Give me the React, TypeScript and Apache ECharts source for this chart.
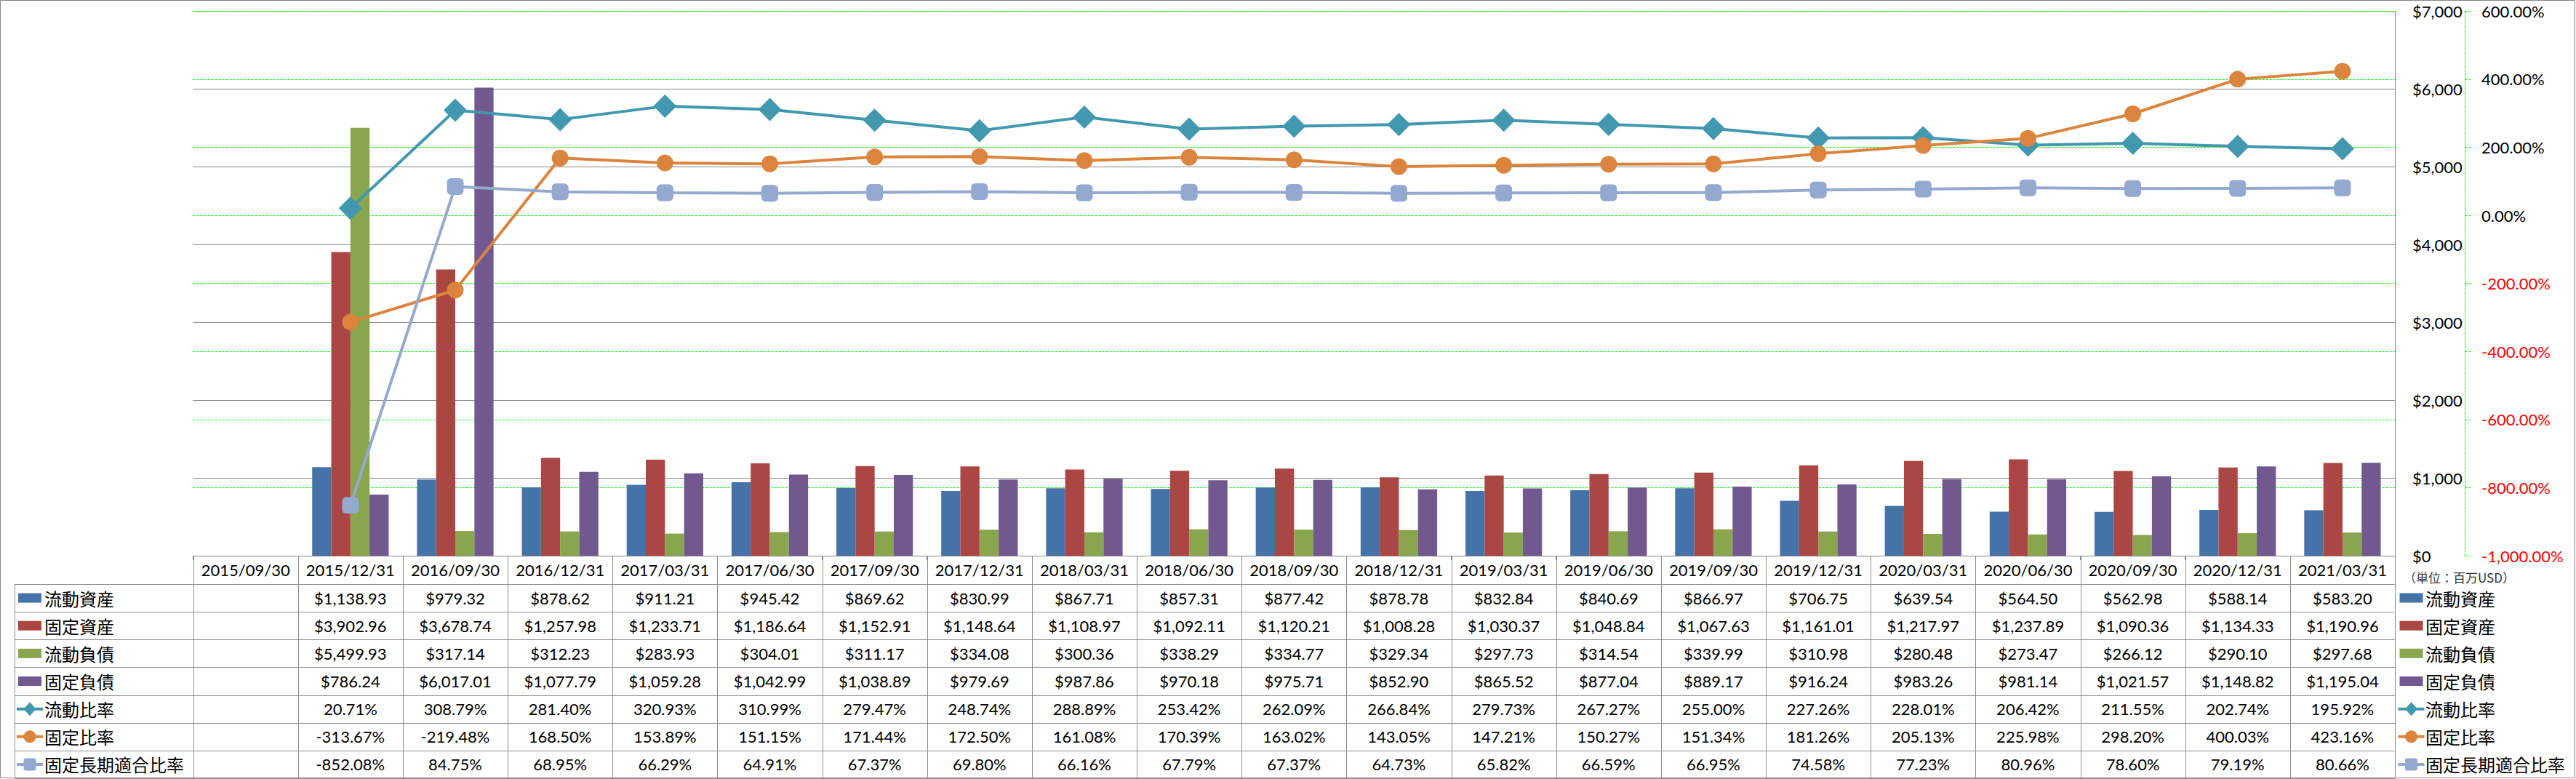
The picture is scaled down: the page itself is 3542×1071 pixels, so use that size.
import React, { useEffect, useRef } from "react";
import * as echarts from "echarts";

const categories = [
  "2015/09/30", "2015/12/31", "2016/09/30", "2016/12/31", "2017/03/31", "2017/06/30", "2017/09/30",
  "2017/12/31", "2018/03/31", "2018/06/30", "2018/09/30", "2018/12/31", "2019/03/31", "2019/06/30",
  "2019/09/30", "2019/12/31", "2020/03/31", "2020/06/30", "2020/09/30", "2020/12/31", "2021/03/31",
];

const currentAssets = [null, 1138.93, 979.32, 878.62, 911.21, 945.42, 869.62, 830.99, 867.71, 857.31, 877.42, 878.78, 832.84, 840.69, 866.97, 706.75, 639.54, 564.5, 562.98, 588.14, 583.2];
const fixedAssets = [null, 3902.96, 3678.74, 1257.98, 1233.71, 1186.64, 1152.91, 1148.64, 1108.97, 1092.11, 1120.21, 1008.28, 1030.37, 1048.84, 1067.63, 1161.01, 1217.97, 1237.89, 1090.36, 1134.33, 1190.96];
const currentLiabilities = [null, 5499.93, 317.14, 312.23, 283.93, 304.01, 311.17, 334.08, 300.36, 338.29, 334.77, 329.34, 297.73, 314.54, 339.99, 310.98, 280.48, 273.47, 266.12, 290.1, 297.68];
const fixedLiabilities = [null, 786.24, 6017.01, 1077.79, 1059.28, 1042.99, 1038.89, 979.69, 987.86, 970.18, 975.71, 852.9, 865.52, 877.04, 889.17, 916.24, 983.26, 981.14, 1021.57, 1148.82, 1195.04];
const currentRatio = [null, 20.71, 308.79, 281.4, 320.93, 310.99, 279.47, 248.74, 288.89, 253.42, 262.09, 266.84, 279.73, 267.27, 255.0, 227.26, 228.01, 206.42, 211.55, 202.74, 195.92];
const fixedRatio = [null, -313.67, -219.48, 168.5, 153.89, 151.15, 171.44, 172.5, 161.08, 170.39, 163.02, 143.05, 147.21, 150.27, 151.34, 181.26, 205.13, 225.98, 298.2, 400.03, 423.16];
const fixedLongTermRatio = [null, -852.08, 84.75, 68.95, 66.29, 64.91, 67.37, 69.8, 66.16, 67.79, 67.37, 64.73, 65.82, 66.59, 66.95, 74.58, 77.23, 80.96, 78.6, 79.19, 80.66];

const seriesNames = ["流動資産", "固定資産", "流動負債", "固定負債", "流動比率", "固定比率", "固定長期適合比率"];
const dollarAxisRange = [0, 7000, 1000];
const ratioAxisRange = [-1000, 600, 200];
const unitLabel = "（単位：百万USD）";

const COLORS = ["#4572A7", "#AA4643", "#89A54E", "#71588F", "#4198AF", "#DB843D", "#93A9CF"];
const LATIN = "Lato, 'Noto Sans CJK JP', sans-serif";
const CJK = "'Noto Sans CJK JP', sans-serif";
const GRID_GRAY = "#868686";
const TABLE_GRAY = "#8c8c8c";

const W = 3542;
const H = 1071;
const PLOT_LEFT = 265.6;
const PLOT_RIGHT = 3293;
const PLOT_TOP = 15.3;
const PLOT_BOTTOM = 764;
const HEADER_BOTTOM = 803;
const TABLE_BOTTOM = 1070;

const fmtMoney = (v: number | null) =>
  v == null ? "" : "$" + v.toLocaleString("en-US", { minimumFractionDigits: 2, maximumFractionDigits: 2 });
const fmtPct = (v: number | null) =>
  v == null ? "" : v.toLocaleString("en-US", { minimumFractionDigits: 2, maximumFractionDigits: 2 }) + "%";

const rows = [
  { name: seriesNames[0], kind: "bar", color: COLORS[0], values: currentAssets, fmt: fmtMoney, symbol: "" },
  { name: seriesNames[1], kind: "bar", color: COLORS[1], values: fixedAssets, fmt: fmtMoney, symbol: "" },
  { name: seriesNames[2], kind: "bar", color: COLORS[2], values: currentLiabilities, fmt: fmtMoney, symbol: "" },
  { name: seriesNames[3], kind: "bar", color: COLORS[3], values: fixedLiabilities, fmt: fmtMoney, symbol: "" },
  { name: seriesNames[4], kind: "line", color: COLORS[4], values: currentRatio, fmt: fmtPct, symbol: "diamond" },
  { name: seriesNames[5], kind: "line", color: COLORS[5], values: fixedRatio, fmt: fmtPct, symbol: "circle" },
  { name: seriesNames[6], kind: "line", color: COLORS[6], values: fixedLongTermRatio, fmt: fmtPct, symbol: "square" },
];

const crisp = (v: number) => Math.round(v) + 0.5;

function gLine(x1: number, y1: number, x2: number, y2: number, color = TABLE_GRAY) {
  return {
    type: "line",
    silent: true,
    shape: { x1, y1, x2, y2 },
    style: { stroke: color, lineWidth: 1 },
  };
}

function gText(text: string, x: number, y: number, align: string, fontSize: number, family: string, fill = "#000") {
  return {
    type: "text",
    silent: true,
    x,
    y,
    style: {
      text,
      fill,
      fontSize,
      fontFamily: family,
      align,
      textAlign: align,
      verticalAlign: "middle",
      textVerticalAlign: "middle",
    },
  };
}

function legendKey(row: any, cx: number, cy: number) {
  const els: any[] = [];
  if (row.kind === "bar") {
    els.push({
      type: "rect",
      silent: true,
      shape: { x: cx - 16, y: cy - 6.5, width: 32, height: 13 },
      style: { fill: row.color },
    });
  } else {
    els.push({
      type: "line",
      silent: true,
      shape: { x1: cx - 18, y1: cy, x2: cx + 18, y2: cy },
      style: { stroke: row.color, lineWidth: 4 },
    });
    if (row.symbol === "diamond") {
      els.push({
        type: "polygon",
        silent: true,
        shape: { points: [[cx, cy - 9.5], [cx + 8.5, cy], [cx, cy + 9.5], [cx - 8.5, cy]] },
        style: { fill: row.color },
      });
    } else if (row.symbol === "circle") {
      els.push({ type: "circle", silent: true, shape: { cx, cy, r: 8.5 }, style: { fill: row.color } });
    } else {
      els.push({
        type: "rect",
        silent: true,
        shape: { x: cx - 8.5, y: cy - 8.5, width: 17, height: 17, r: 3 },
        style: { fill: row.color },
      });
    }
  }
  return els;
}

function buildTable(chart: any) {
  const xs = categories.map((c) => chart.convertToPixel({ xAxisIndex: 0 }, c) as number);
  const colW = xs[1] - xs[0];
  const left = xs[0] - colW / 2;
  const right = xs[xs.length - 1] + colW / 2;
  const rowH = (TABLE_BOTTOM - HEADER_BOTTOM) / rows.length;
  const els: any[] = [];

  // outer border
  els.push({
    type: "rect",
    silent: true,
    shape: { x: 0.5, y: 0.5, width: W - 2, height: H - 2 },
    style: { fill: "none", stroke: GRID_GRAY, lineWidth: 1 },
  });

  // horizontal lines
  els.push(gLine(left, crisp(PLOT_BOTTOM), right, crisp(PLOT_BOTTOM)));
  for (let i = 0; i <= rows.length; i++) {
    const y = crisp(HEADER_BOTTOM + i * rowH);
    els.push(gLine(20.5, y, right, y));
  }
  // vertical lines
  els.push(gLine(20.5, HEADER_BOTTOM, 20.5, TABLE_BOTTOM));
  for (let i = 0; i <= categories.length; i++) {
    const x = crisp(left + i * colW);
    els.push(gLine(x, PLOT_BOTTOM, x, TABLE_BOTTOM));
  }

  // header
  const headerY = (PLOT_BOTTOM + HEADER_BOTTOM) / 2;
  categories.forEach((c, i) => els.push(gText(c, xs[i], headerY, "center", 22, LATIN)));

  // rows
  rows.forEach((row, r) => {
    const cy = HEADER_BOTTOM + (r + 0.5) * rowH;
    els.push(...legendKey(row, 41, cy));
    els.push(gText(row.name, 61, cy, "left", 24, CJK));
    row.values.forEach((v: any, i: number) => {
      const s = row.fmt(v);
      if (s) els.push(gText(s, xs[i], cy, "center", 22, LATIN));
    });
    // right-side legend
    els.push(...legendKey(row, 3315.5, cy));
    els.push(gText(row.name, 3335, cy, "left", 24, CJK));
  });

  // unit label
  els.push(gText(unitLabel, 3305, 793, "left", 17, CJK, "#333"));

  chart.setOption({ graphic: { elements: els } });
}

export default function App() {
  const ref = useRef<HTMLDivElement>(null);

  useEffect(() => {
    document.body.style.margin = "0";
    if (!ref.current) return;
    const chart = echarts.init(ref.current, null, { renderer: "svg" });

    const barSeries = rows.slice(0, 4).map((row) => ({
      name: row.name,
      type: "bar",
      yAxisIndex: 0,
      data: row.values,
      barGap: "0%",
      barCategoryGap: "27%",
      itemStyle: { color: row.color },
    }));

    const symbolMap: any = { diamond: "diamond", circle: "circle", square: "roundRect" };
    const symbolSizeMap: any = { diamond: 32, circle: 23, square: 23 };
    const lineSeries = rows.slice(4).map((row) => ({
      name: row.name,
      type: "line",
      yAxisIndex: 1,
      data: row.values,
      symbol: symbolMap[row.symbol],
      symbolSize: symbolSizeMap[row.symbol],
      showAllSymbol: true,
      connectNulls: true,
      itemStyle: { color: row.color },
      lineStyle: { color: row.color, width: 4 },
    }));

    chart.setOption({
      animation: false,
      backgroundColor: "#ffffff",
      textStyle: { fontFamily: LATIN },
      grid: {
        left: PLOT_LEFT,
        right: W - PLOT_RIGHT,
        top: PLOT_TOP,
        bottom: H - PLOT_BOTTOM,
        containLabel: false,
      },
      xAxis: {
        type: "category",
        data: categories,
        boundaryGap: true,
        axisLine: { show: true, lineStyle: { color: GRID_GRAY, width: 1 } },
        axisTick: { show: true, length: 6, interval: 0, lineStyle: { color: GRID_GRAY } },
        axisLabel: { show: false },
        splitLine: { show: false },
      },
      yAxis: [
        {
          type: "value",
          position: "right",
          min: dollarAxisRange[0],
          max: dollarAxisRange[1],
          interval: dollarAxisRange[2],
          axisLine: { show: true, lineStyle: { color: GRID_GRAY, width: 1 } },
          axisTick: { show: false },
          axisLabel: {
            margin: 24,
            fontSize: 22,
            fontFamily: LATIN,
            color: "#000",
            formatter: (v: number) => "$" + Number(v).toLocaleString("en-US"),
          },
          splitLine: { show: true, lineStyle: { color: GRID_GRAY, width: 1 } },
        },
        {
          type: "value",
          position: "right",
          offset: 96,
          min: ratioAxisRange[0],
          max: ratioAxisRange[1],
          interval: ratioAxisRange[2],
          axisLine: { show: true, lineStyle: { color: "#00ff00", width: 1, type: [3, 2] } },
          axisTick: { show: true, length: 8, lineStyle: { color: "#00ff00", type: [3, 2] } },
          axisLabel: {
            margin: 23,
            fontSize: 22,
            fontFamily: LATIN,
            color: (v: any) => (Number(v) < 0 ? "#ff0000" : "#000000"),
            formatter: (v: number) =>
              Number(v).toLocaleString("en-US", { minimumFractionDigits: 2, maximumFractionDigits: 2 }) + "%",
          },
          splitLine: { show: true, lineStyle: { color: "#00ff00", width: 1, type: [3, 2] } },
        },
      ],
      series: [...barSeries, ...lineSeries],
    });

    buildTable(chart);

    return () => {
      chart.dispose();
    };
  }, []);

  return (
    <div
      ref={ref}
      style={{ position: "fixed", left: 0, top: 0, width: W, height: H, background: "#fff" }}
    />
  );
}
